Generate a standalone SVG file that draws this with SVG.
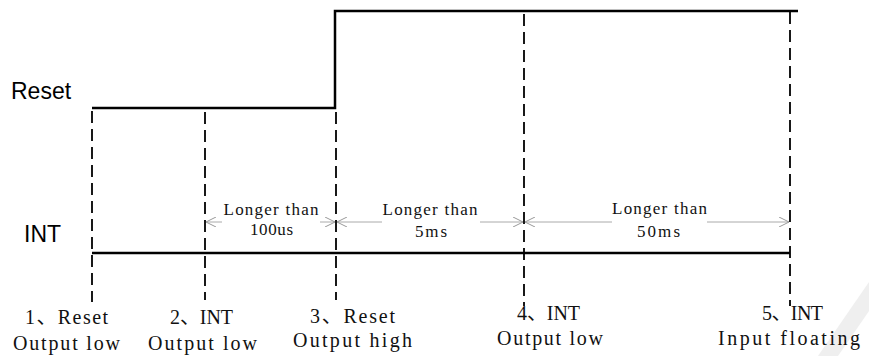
<svg xmlns="http://www.w3.org/2000/svg" width="869" height="356" viewBox="0 0 869 356">
<defs>
<marker id="ah" viewBox="0 0 10 10" refX="10" refY="5" markerWidth="10" markerHeight="10" markerUnits="userSpaceOnUse" orient="auto">
<path d="M0,0 L10,5 L0,10" fill="none" stroke="#999" stroke-width="1"/>
</marker>
<style>
.sig{fill:none;stroke:#000;stroke-width:2.5}
.dash{stroke:#000;stroke-width:1.8;stroke-dasharray:12 6;fill:none}
.dim{stroke:#aaa;stroke-width:1;marker-end:url(#ah)}
.lbl{font-family:"Liberation Sans",Arial,sans-serif;font-size:23px;fill:#000}
.t{font-family:"Liberation Serif","Noto Sans CJK SC",serif;font-size:17px;fill:#111;text-anchor:middle}
.b{font-family:"Liberation Serif","Noto Sans CJK SC",serif;font-size:20px;fill:#111;text-anchor:middle}
</style>
</defs>
<rect width="869" height="356" fill="#fff"/>
<polygon points="818,356 838,356 869,311 869,282" fill="#efefef"/>
<g id="reset-label"><text class="lbl" x="11" y="99">Reset</text></g>
<g id="int-label"><text class="lbl" x="24" y="242">INT</text></g>
<g id="reset-signal"><polyline class="sig" points="92,108 335,108 335,11 798,11"/></g>
<g id="int-signal"><polyline class="sig" points="92,253 790,253"/></g>
<g id="connectors">
<line class="dash" x1="92" y1="111" x2="92" y2="302"/>
<line class="dash" x1="205" y1="112" x2="205" y2="300"/>
<line class="dash" x1="336" y1="112" x2="336" y2="300"/>
<line class="dash" x1="524" y1="14" x2="524" y2="306"/>
<line class="dash" x1="790" y1="12" x2="790" y2="306"/>
<line class="dim" x1="222" y1="222" x2="206" y2="222"/>
<line class="dim" x1="320" y1="222" x2="335" y2="222"/>
<line class="dim" x1="382" y1="222" x2="337" y2="222"/>
<line class="dim" x1="480" y1="222" x2="523" y2="222"/>
<line class="dim" x1="612" y1="222" x2="525" y2="222"/>
<line class="dim" x1="707" y1="222" x2="789" y2="222"/>
</g>
<g id="dim1"><text class="t" x="271" y="215" textLength="95" lengthAdjust="spacing">Longer than</text><text class="t" x="271.5" y="235" textLength="43" lengthAdjust="spacing">100us</text></g>
<g id="dim2"><text class="t" x="430" y="215" textLength="95" lengthAdjust="spacing">Longer than</text><text class="t" x="431" y="237" textLength="32" lengthAdjust="spacing">5ms</text></g>
<g id="dim3"><text class="t" x="659.5" y="214" textLength="95" lengthAdjust="spacing">Longer than</text><text class="t" x="658.5" y="237" textLength="43" lengthAdjust="spacing">50ms</text></g>
<g id="step1"><text class="b" x="66.5" y="324" textLength="83" lengthAdjust="spacing">1、Reset</text><text class="b" x="66.5" y="350" textLength="107" lengthAdjust="spacing">Output low</text></g>
<g id="step2"><text class="b" x="201.5" y="324" textLength="63" lengthAdjust="spacing">2、INT</text><text class="b" x="202.5" y="350" textLength="109" lengthAdjust="spacing">Output low</text></g>
<g id="step3"><text class="b" x="352.5" y="323" textLength="85" lengthAdjust="spacing">3、Reset</text><text class="b" x="352.5" y="347" textLength="119" lengthAdjust="spacing">Output high</text></g>
<g id="step4"><text class="b" x="548.5" y="320" textLength="63" lengthAdjust="spacing">4、INT</text><text class="b" x="550" y="345" textLength="106" lengthAdjust="spacing">Output low</text></g>
<g id="step5"><text class="b" x="792.5" y="320" textLength="61" lengthAdjust="spacing">5、INT</text><text class="b" x="789" y="345" textLength="142" lengthAdjust="spacing">Input floating</text></g>
</svg>
